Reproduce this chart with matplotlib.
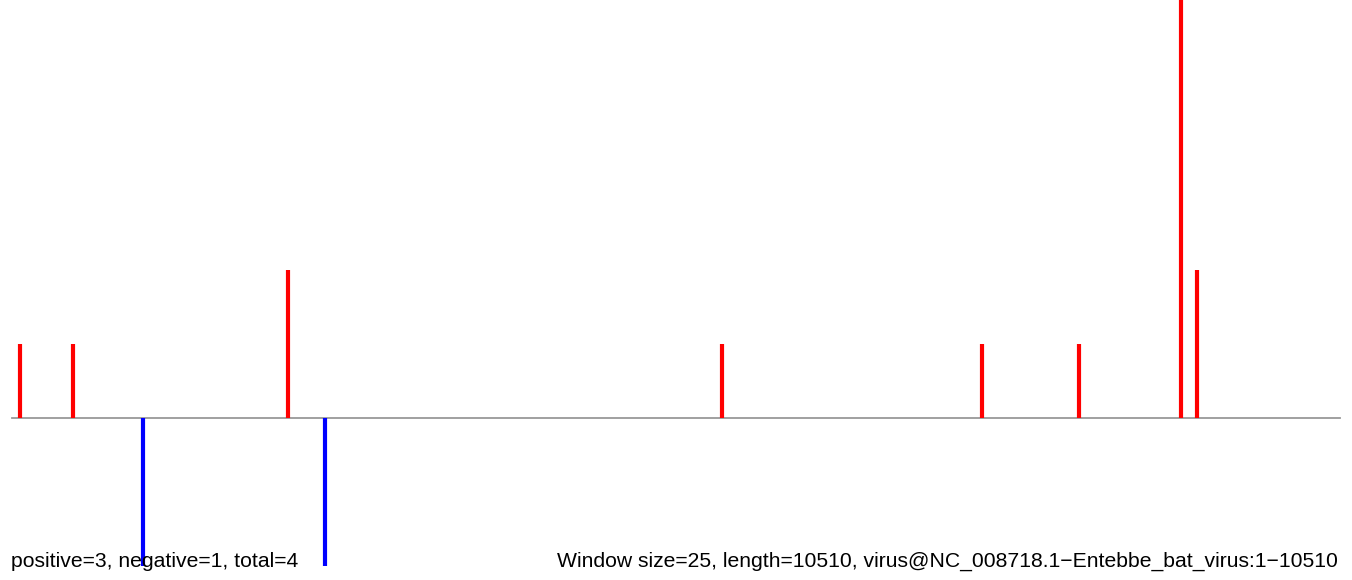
import numpy as np
import matplotlib.pyplot as plt

plt.rcParams['font.family'] = ['Liberation Sans', 'DejaVu Sans']

# spike positions (nt) and counts
pos_x = [64, 484, 2185, 5619, 7677, 8444, 9251, 9378]
pos_y = [1, 1, 2, 1, 1, 1, 6, 2]
neg_x = [1038, 2478]
neg_y = [-2, -2]
seq_len = 10510
left_text = "positive=3, negative=1, total=4"
right_text = "Window size=25, length=10510, virus@NC_008718.1\u2212Entebbe_bat_virus:1\u221210510"

W, H = 1352, 580
fig = plt.figure(figsize=(W / 100, H / 100), dpi=100)
ax = fig.add_axes([0, 0, 1, 1])
ax.set_axis_off()

px = (seq_len - 1) / 1328.0
ax.set_xlim(1 - 12 * px, seq_len + 12 * px)
ax.set_ylim(-162 / 74.0, 418 / 74.0)

ax.plot([1, seq_len], [0, 0], color="#999999", lw=1.3, zorder=1)
ax.vlines(pos_x, 0, pos_y, color="red", lw=3, zorder=2)
ax.vlines(neg_x, 0, neg_y, color="blue", lw=3, zorder=2)

fig.text(11 / W, 1 - 567 / H, left_text, fontsize=15.2, ha="left", va="baseline")
fig.text(1338 / W, 1 - 567 / H, right_text, fontsize=15.2, ha="right", va="baseline")

fig.savefig("out.png", dpi=100)
